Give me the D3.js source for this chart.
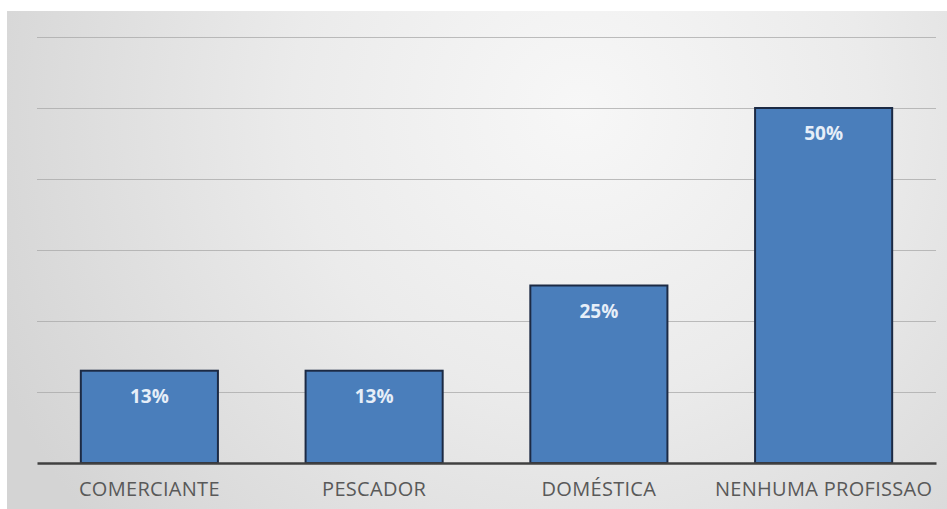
<!DOCTYPE html>
<html>
<head>
<meta charset="utf-8">
<script src="https://cdn.jsdelivr.net/npm/d3@7"></script>
<style>
  html, body { margin: 0; padding: 0; background: #ffffff; }
  svg { display: block; }
</style>
</head>
<body>
<svg id="chart" width="947" height="509"></svg>
<script>
// Occupation distribution (percent)
const categories = ["COMERCIANTE", "PESCADOR", "DOMÉSTICA", "NENHUMA PROFISSAO"];
const values = [13, 13, 25, 50];
const valueLabels = ["13%", "13%", "25%", "50%"];
const gridTicks = [10, 20, 30, 40, 50, 60];

const W = 947, H = 509;
const frame = { x: 7, y: 11 };
const plot = { left: 37, right: 936, top: 37, bottom: 463 };

const svg = d3.select("#chart");
const defs = svg.append("defs");

// Soft grey panel shading, lighter towards the upper centre
const grad = defs.append("radialGradient")
  .attr("id", "panelShade")
  .attr("gradientUnits", "userSpaceOnUse")
  .attr("cx", 580).attr("cy", 110).attr("r", 640)
  .attr("fx", 580).attr("fy", 110);
grad.append("stop").attr("offset", "0%").attr("stop-color", "#f7f7f7");
grad.append("stop").attr("offset", "45%").attr("stop-color", "#ebebeb");
grad.append("stop").attr("offset", "100%").attr("stop-color", "#d4d4d4");

svg.append("rect")
  .attr("x", frame.x).attr("y", frame.y)
  .attr("width", W - frame.x).attr("height", H - frame.y)
  .attr("fill", "url(#panelShade)");

const x = d3.scaleBand()
  .domain(categories)
  .range([plot.left, plot.right])
  .paddingInner(0.39)
  .paddingOuter(0.195);

const y = d3.scaleLinear()
  .domain([0, 60])
  .range([plot.bottom, plot.top]);

// Horizontal gridlines
svg.append("g")
  .attr("class", "grid")
  .attr("transform", `translate(${plot.left},0)`)
  .call(d3.axisLeft(y).tickValues(gridTicks).tickSize(-(plot.right - plot.left)).tickFormat(""))
  .call(g => g.select(".domain").remove())
  .call(g => g.selectAll(".tick line").attr("stroke", "#a8a8a8").attr("stroke-width", 1).attr("opacity", 0.75));

// Bars
svg.append("g")
  .selectAll("rect")
  .data(values)
  .join("rect")
  .attr("x", (d, i) => x(categories[i]))
  .attr("y", d => y(d))
  .attr("width", x.bandwidth())
  .attr("height", d => y(0) - y(d))
  .attr("fill", "#4a7ebb")
  .attr("stroke", "#1c2a44")
  .attr("stroke-width", 2);

// Category axis
const xAxis = svg.append("g")
  .attr("transform", `translate(0,${plot.bottom})`)
  .call(d3.axisBottom(x).tickSize(0).tickPadding(19));
xAxis.select(".domain").attr("stroke", "#404040").attr("stroke-width", 2.5);
xAxis.selectAll(".tick text")
  .attr("fill", "#595959")
  .attr("font-family", "'Open Sans', 'Liberation Sans', sans-serif")
  .attr("font-size", 20)
  .attr("letter-spacing", "0.3px")
  .attr("dy", "0.71em");

// Value labels inside the bar tops
svg.append("g")
  .selectAll("text")
  .data(values)
  .join("text")
  .attr("x", (d, i) => x(categories[i]) + x.bandwidth() / 2)
  .attr("y", d => y(d) + 32)
  .attr("text-anchor", "middle")
  .attr("fill", "#e6eef8")
  .attr("font-family", "'Open Sans', 'Liberation Sans', sans-serif")
  .attr("font-weight", "bold")
  .attr("font-size", 19)
  .text((d, i) => valueLabels[i]);
</script>
</body>
</html>
